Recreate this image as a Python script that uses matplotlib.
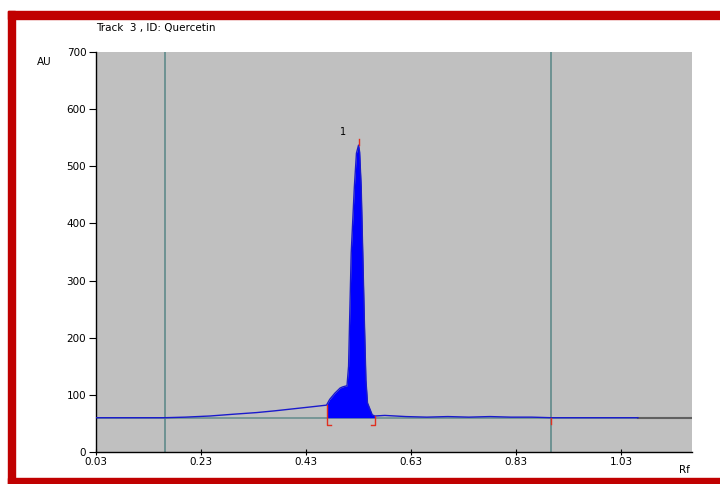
import matplotlib
matplotlib.use("Agg")
import matplotlib.pyplot as plt
from matplotlib.patches import Rectangle
import numpy as np

plt.rcParams['font.family'] = ['DejaVu Sans']

# Chromatogram trace (Rf, AU)
rf = [0.03, 0.10, 0.16, 0.20, 0.247, 0.29, 0.336, 0.37, 0.40, 0.44, 0.469,
      0.475, 0.485, 0.495, 0.500, 0.508, 0.511, 0.513, 0.516, 0.522, 0.526,
      0.530, 0.532, 0.535, 0.538, 0.541, 0.544, 0.547, 0.556, 0.561,
      0.58, 0.62, 0.66, 0.70, 0.74, 0.78, 0.82, 0.86, 0.897, 0.95, 1.00, 1.062]
au = [60, 60, 60, 61, 63, 66, 69, 72, 75, 79, 82,
      92, 103, 112, 114, 116, 150, 231, 348, 464, 523,
      537, 525, 464, 348, 231, 126, 86, 65, 63,
      64, 62, 61, 62, 61, 62, 61, 61, 60, 60, 60, 60]
baseline_au = 60
peak_start, peak_end = 0.469, 0.561
peak_top_rf, peak_top_au = 0.530, 537
peak_label = "1"
track_lines = [0.161, 0.897]
x_ticks = [0.03, 0.23, 0.43, 0.63, 0.83, 1.03]
x_ticklabels = ["0.03", "0.23", "0.43", "0.63", "0.83", "1.03"]
y_ticks = [0, 100, 200, 300, 400, 500, 600, 700]

fig = plt.figure(figsize=(7.2, 4.84), dpi=100)
fig.patch.set_facecolor('white')
ax = fig.add_axes([96/720, 1-452/484, 596/720, 400/484])
ax.set_facecolor('#c0c0c0')
ax.set_xlim(0.03, 1.165)
ax.set_ylim(0, 700)

# baseline
ax.plot([0.03, 1.165], [baseline_au, baseline_au], color='#6a8f8f', lw=1.2, zorder=2)
ax.plot([1.062, 1.165], [baseline_au, baseline_au], color='#606060', lw=1.5, zorder=3)

# track vertical lines
for v in track_lines:
    ax.axvline(v, color='#5f8a8a', lw=1.2, zorder=1)

rf_a = np.array(rf); au_a = np.array(au)
mask = (rf_a >= peak_start) & (rf_a <= peak_end)
ax.fill_between(rf_a[mask], baseline_au, au_a[mask], color='#0000ff', lw=0, zorder=4)
ax.plot(rf, au, color='#1a1acc', lw=1.0, zorder=5)

# red peak markers
red = '#e03020'
ax.plot([peak_start, peak_start, peak_start + 0.008], [82, 47, 47], color=red, lw=1.0, zorder=6)
ax.plot([peak_end, peak_end, peak_end - 0.008], [63, 47, 47], color=red, lw=1.0, zorder=6)
ax.plot([peak_top_rf, peak_top_rf], [peak_top_au, 548], color=red, lw=1.0, zorder=6)
ax.plot([0.897, 0.897], [60, 49], color=red, lw=1.0, zorder=6)
ax.text(0.500, 552, peak_label, fontsize=7, ha='center', va='bottom')

ax.spines['top'].set_visible(False)
ax.spines['right'].set_visible(False)
ax.spines['left'].set_linewidth(1.0)
ax.spines['bottom'].set_linewidth(1.0)
ax.set_xticks(x_ticks)
ax.set_xticklabels(x_ticklabels)
ax.set_yticks(y_ticks)
ax.tick_params(axis='y', direction='out', length=5, labelsize=7.5, pad=2)
ax.tick_params(axis='x', direction='inout', length=5, labelsize=7.5, pad=1)

fig.text(96/720, 1-28/484, "Track  3 , ID: Quercetin", fontsize=7.5, va='center', ha='left')
fig.text(37/720, 1-62/484, "AU", fontsize=7.5, va='center', ha='left')
fig.text(679/720, 1-470/484, "Rf", fontsize=7.5, va='center', ha='left')

# red frame
fig.patches.append(Rectangle((8/720, 1-484/484), 7/720, (484-11)/484, transform=fig.transFigure, color='#c00000', zorder=10))
fig.patches.append(Rectangle((8/720, 1-19/484), 712/720, 8/484, transform=fig.transFigure, color='#c00000', zorder=10))
fig.patches.append(Rectangle((8/720, 0), 712/720, 6/484, transform=fig.transFigure, color='#c00000', zorder=10))

fig.savefig('out.png', dpi=100)
